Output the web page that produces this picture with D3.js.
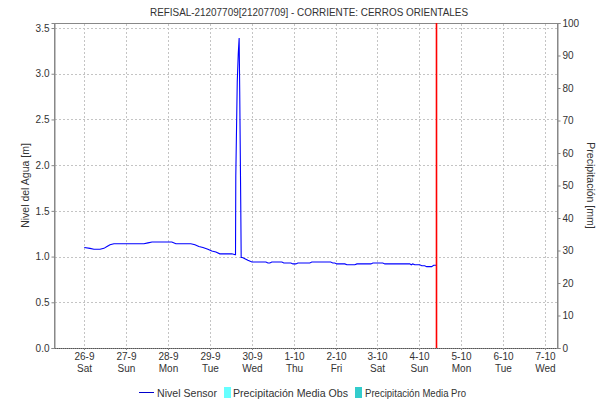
<!DOCTYPE html>
<html><head><meta charset="utf-8">
<script src="https://cdn.jsdelivr.net/npm/d3@7"></script>
<style>
body{margin:0;background:#fff}
svg{display:block}
text{font-family:"Liberation Sans",Arial,sans-serif;fill:#333}
</style>
</head><body><svg id="c" width="616" height="404"></svg>
<script>
const title = "REFISAL-21207709[21207709] - CORRIENTE: CERROS ORIENTALES";
const leftAxisTitle = "Nivel del Agua [m]";
const rightAxisTitle = "Precipitación [mm]";

// Nivel Sensor series (time, metres)
const levelTimes = [
  "2020-09-26 00:00","2020-09-26 03:15","2020-09-26 05:30","2020-09-26 09:00","2020-09-26 11:15",
  "2020-09-26 13:00","2020-09-26 14:45","2020-09-26 17:00","2020-09-27 10:10","2020-09-27 12:30",
  "2020-09-27 14:50","2020-09-28 02:10","2020-09-28 04:30","2020-09-28 13:05","2020-09-28 15:25",
  "2020-09-28 17:40","2020-09-28 20:00","2020-09-28 22:50","2020-09-29 01:05","2020-09-29 03:25",
  "2020-09-29 05:40","2020-09-29 12:35","2020-09-29 14:30",
  "2020-09-29 14:40","2020-09-29 14:50","2020-09-29 15:40","2020-09-29 16:15","2020-09-29 16:45",
  "2020-09-29 17:05","2020-09-29 17:40","2020-09-29 17:55",
  "2020-09-29 18:35","2020-09-29 19:45","2020-09-29 21:45","2020-09-30 00:05","2020-09-30 08:05",
  "2020-09-30 09:15","2020-09-30 10:20","2020-09-30 11:30","2020-09-30 17:15","2020-09-30 18:20",
  "2020-09-30 22:25","2020-09-30 23:35","2020-10-01 01:15","2020-10-01 02:25","2020-10-01 09:15",
  "2020-10-01 10:25","2020-10-01 21:15","2020-10-01 22:25","2020-10-01 23:35","2020-10-02 00:45",
  "2020-10-02 05:20","2020-10-02 06:30","2020-10-02 11:05","2020-10-02 12:15","2020-10-02 20:15",
  "2020-10-02 21:25","2020-10-03 03:05","2020-10-03 04:15","2020-10-03 18:30","2020-10-03 19:25",
  "2020-10-03 20:15","2020-10-03 21:25","2020-10-04 00:15","2020-10-04 01:25","2020-10-04 03:05",
  "2020-10-04 04:15","2020-10-04 07:05","2020-10-04 08:15","2020-10-04 09:40"
];
const levelValues = [
  1.10,1.09,1.08,1.08,1.09,
  1.11,1.13,1.14,1.14,1.15,
  1.16,1.16,1.14,1.14,1.13,
  1.11,1.10,1.08,1.06,1.05,
  1.03,1.03,1.02,
  1.02,1.885,2.91,3.22,3.39,
  2.80,1.58,0.99,
  0.99,0.98,0.96,0.94,0.94,
  0.93,0.93,0.94,0.94,0.93,
  0.93,0.92,0.92,0.93,0.93,
  0.94,0.94,0.93,0.93,0.92,
  0.92,0.91,0.91,0.92,0.92,
  0.93,0.93,0.92,0.92,0.91,
  0.92,0.91,0.91,0.90,0.90,
  0.89,0.89,0.905,0.905
];

// Precipitation series (empty in the reference)
const precipObsTimes = [];
const precipObsValues = [];
const precipProTimes = [];
const precipProValues = [];

const tickDates = ["2020-09-26","2020-09-27","2020-09-28","2020-09-29","2020-09-30","2020-10-01",
                   "2020-10-02","2020-10-03","2020-10-04","2020-10-05","2020-10-06","2020-10-07"];
const tickDayLabels = ["26-9","27-9","28-9","29-9","30-9","1-10","2-10","3-10","4-10","5-10","6-10","7-10"];
const tickWeekdayLabels = ["Sat","Sun","Mon","Tue","Wed","Thu","Fri","Sat","Sun","Mon","Tue","Wed"];
const leftTicks = [0,0.5,1.0,1.5,2.0,2.5,3.0,3.5];
const rightTicks = [0,10,20,30,40,50,60,70,80,90,100];
const xDomainStrings = ["2020-09-25 06:38","2020-10-07 06:56"];
const leftDomain = [0,3.555];
const rightDomain = [0,100];
const nowMarker = "2020-10-04 09:52";

const legendItems = ["Nivel Sensor","Precipitación Media Obs","Precipitación Media Pro"];
const colors = {line:"#0000ff", legendLine:"#0000cc", obs:"#66ffff", pro:"#33cccc", now:"#ff0000"};

const parseT = d3.timeParse("%Y-%m-%d %H:%M");
const parseD = d3.timeParse("%Y-%m-%d");

const L=54, R=557, T=23, B=348;
const svg = d3.select("#c");

const x = d3.scaleTime().domain(xDomainStrings.map(parseT)).range([L,R]);
const yL = d3.scaleLinear().domain(leftDomain).range([B,T]);
const yR = d3.scaleLinear().domain(rightDomain).range([B,T]);

// plot outline
svg.append("rect").attr("x",L+0.5).attr("y",T+0.5).attr("width",R-L).attr("height",B-T)
  .attr("fill","#fff").attr("stroke","#888").attr("stroke-width",1);

// gridlines
const grid = svg.append("g").attr("stroke","#c4c4c4").attr("stroke-width",1).attr("stroke-dasharray","2,2");
tickDates.forEach(d=>{
  const xx = Math.round(x(parseD(d)))+0.5;
  grid.append("line").attr("x1",xx).attr("x2",xx).attr("y1",T+1).attr("y2",B);
});
leftTicks.forEach(v=>{
  const yy = Math.round(yL(v))+0.5;
  grid.append("line").attr("x1",L+1).attr("x2",R).attr("y1",yy).attr("y2",yy)
    .attr("stroke", v===0 ? "#555" : "#c4c4c4").attr("stroke-dasharray", v===0 ? "1,1" : "2,2");
});

// precipitation bars (none)
const barW = 6;
svg.append("g").selectAll("rect").data(precipObsTimes.map((t,i)=>({t:parseT(t),v:precipObsValues[i]})))
  .join("rect").attr("x",d=>x(d.t)-barW/2).attr("y",d=>yR(d.v)).attr("width",barW)
  .attr("height",d=>B-yR(d.v)).attr("fill",colors.obs);
svg.append("g").selectAll("rect").data(precipProTimes.map((t,i)=>({t:parseT(t),v:precipProValues[i]})))
  .join("rect").attr("x",d=>x(d.t)-barW/2).attr("y",d=>yR(d.v)).attr("width",barW)
  .attr("height",d=>B-yR(d.v)).attr("fill",colors.pro);

// level line
const pts = levelTimes.map((t,i)=>({t:parseT(t),v:levelValues[i]}));
svg.append("path").datum(pts)
  .attr("d", d3.line().x(d=>x(d.t)).y(d=>yL(d.v)))
  .attr("fill","none").attr("stroke",colors.line).attr("stroke-width",1.1);

// now marker
const nx = x(parseT(nowMarker));
svg.append("line").attr("x1",nx).attr("x2",nx).attr("y1",T).attr("y2",B)
  .attr("stroke",colors.now).attr("stroke-width",1.6);

// left axis
const axL = svg.append("g").attr("transform",`translate(${L+0.5},0)`)
  .call(d3.axisLeft(yL).tickValues(leftTicks).tickFormat(d3.format(".1f")).tickSize(3).tickPadding(2));
axL.select(".domain").attr("stroke","#888");
axL.selectAll(".tick line").attr("stroke","#888");
axL.selectAll("text").attr("font-size",10).attr("fill","#333").style("font-family","Liberation Sans, Arial, sans-serif");

// right axis
const axR = svg.append("g").attr("transform",`translate(${R+0.5},0)`)
  .call(d3.axisRight(yR).tickValues(rightTicks).tickSize(3).tickPadding(2));
axR.select(".domain").attr("stroke","#888");
axR.selectAll(".tick line").attr("stroke","#888");
axR.selectAll("text").attr("font-size",10).attr("fill","#333").style("font-family","Liberation Sans, Arial, sans-serif");

// bottom axis ticks and labels
const axB = svg.append("g");
tickDates.forEach((d,i)=>{
  const xx = Math.round(x(parseD(d)))+0.5;
  axB.append("line").attr("x1",xx).attr("x2",xx).attr("y1",B).attr("y2",B+2).attr("stroke","#888");
  axB.append("text").attr("x",xx).attr("y",B+12).attr("text-anchor","middle").attr("font-size",10).text(tickDayLabels[i]);
  axB.append("text").attr("x",xx).attr("y",B+24).attr("text-anchor","middle").attr("font-size",10).text(tickWeekdayLabels[i]);
});

// titles
svg.append("text").attr("x",309).attr("y",16).attr("text-anchor","middle").attr("font-size",11.5)
  .attr("textLength",318).attr("lengthAdjust","spacingAndGlyphs").attr("fill","#000").text(title);
svg.append("text").attr("transform",`translate(29,${(T+B)/2}) rotate(-90)`).attr("text-anchor","middle")
  .attr("font-size",10.5).text(leftAxisTitle);
svg.append("text").attr("transform",`translate(587,${(T+B)/2}) rotate(90)`).attr("text-anchor","middle")
  .attr("font-size",10.5).text(rightAxisTitle);

// legend
const lg = svg.append("g").attr("font-size",11);
lg.append("line").attr("x1",139).attr("x2",154).attr("y1",392.5).attr("y2",392.5).attr("stroke",colors.legendLine).attr("stroke-width",1);
lg.append("text").attr("x",157).attr("y",397).attr("textLength",60).attr("lengthAdjust","spacingAndGlyphs").text(legendItems[0]);
lg.append("rect").attr("x",224).attr("y",387).attr("width",7).attr("height",11).attr("fill",colors.obs);
lg.append("text").attr("x",233).attr("y",397).attr("textLength",115).attr("lengthAdjust","spacingAndGlyphs").text(legendItems[1]);
lg.append("rect").attr("x",355).attr("y",387).attr("width",7).attr("height",11).attr("fill",colors.pro);
lg.append("text").attr("x",365).attr("y",397).attr("textLength",101).attr("lengthAdjust","spacingAndGlyphs").text(legendItems[2]);
</script>
</body></html>
